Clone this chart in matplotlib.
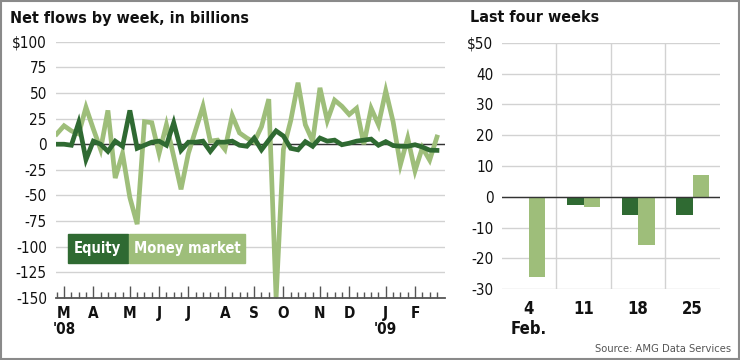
import matplotlib
matplotlib.use("Agg")
import matplotlib.pyplot as plt
from matplotlib import font_manager as fm
from matplotlib.patches import Rectangle
import numpy as np

# pick a narrow sans if one is around
names = {f.name for f in fm.fontManager.ttflist}
paths = [f.fname for f in fm.fontManager.ttflist]
if 'Liberation Sans Narrow' in names:
    plt.rcParams['font.family'] = ['Liberation Sans Narrow', 'DejaVu Sans']
elif any('DejaVuSansCondensed' in p for p in paths):
    plt.rcParams['font.family'] = ['DejaVu Sans']
    plt.rcParams['font.stretch'] = 'condensed'
else:
    plt.rcParams['font.family'] = ['Liberation Sans', 'DejaVu Sans']

# weekly net flows, $ billions, Feb 27 2008 .. Feb 25 2009
equity = [0, 0, -1, 21, -15, 3, 0, -7, 3, -2,
          33, -4, -1, 2, 3, -1, 21, -6, 2, 2,
          3, -7, 2, 2, 3, -1, -2, 6, -5.5, 4,
          13, 8, -4, -5.5, 2.5, -2, 6, 3, 4, -0.5,
          1, 3, 4, 5, -1, 2.5, -1.3, -2, -2, -0.5,
          -2.7, -5.8, -6.0]
money_market = [10, 18, 13, 10, 36, 15, -5, 33, -33, -9,
                -52, -78, 22, 21, -9, 19, -12, -44, -9, 14,
                37, 3, 4, -5, 28, 11, 6, 2, 17, 44,
                -150, -5, 23, 60, 19, 3, 55, 23, 43, 37,
                29, 35, 0, 35, 19, 52, 22, -20, 6, -26,
                -3.3, -15.5, 7]
month_weeks = [1, 5, 10, 14, 18, 23, 27, 31, 36, 40, 45, 49]
month_labels = ["M\n'08", "A", "M", "J", "J", "A", "S", "O", "N", "D", "J\n'09", "F"]
y_ticks = [100, 75, 50, 25, 0, -25, -50, -75, -100, -125, -150]
y_labels = ["$100"] + [str(v) for v in y_ticks[1:]]

last4_days = ["4\nFeb.", "11", "18", "25"]
last4_equity = [-0.5, -2.7, -5.8, -6.0]
last4_money = [-26.0, -3.3, -15.5, 7.0]
bar_ticks = [50, 40, 30, 20, 10, 0, -10, -20, -30]
bar_labels = ["$50"] + [str(v) for v in bar_ticks[1:]]

DARK = '#2f6a32'
LIGHT = '#9ebe7a'
GRID = '#d2d2d2'
AXIS = '#555555'

fig = plt.figure(figsize=(7.4, 3.6), dpi=100)
W, H = 740.0, 360.0

def fbox(x0, y0, x1, y1):
    return [x0 / W, 1 - y1 / H, (x1 - x0) / W, (y1 - y0) / H]

# ---- left: weekly line chart
ax = fig.add_axes(fbox(56, 41.7, 445, 298))
weeks = np.arange(len(equity))
ax.set_xlim(-0.1, 53.1)
ax.set_ylim(-150, 100)
for v in y_ticks:
    ax.axhline(v, color=GRID, lw=1.0, zorder=0)
ax.axhline(0, color='#333333', lw=1.0, zorder=1)
ax.plot(weeks, money_market, color=LIGHT, lw=3.4, solid_joinstyle='miter', zorder=2)
ax.plot(weeks, equity, color=DARK, lw=3.4, solid_joinstyle='miter', zorder=3)
for s in ['top', 'left', 'right']:
    ax.spines[s].set_visible(False)
ax.spines['bottom'].set_color(AXIS)
ax.spines['bottom'].set_linewidth(1.3)
ax.set_yticks(y_ticks)
ax.set_yticklabels(y_labels, fontsize=11, color='#111111')
ax.tick_params(axis='y', length=0, pad=6.5)
ax.set_xticks(month_weeks)
ax.set_xticklabels(month_labels, fontsize=11, fontweight='bold',
                   color='#111111', linespacing=1.05)
ax.set_xticks(weeks, minor=True)
ax.tick_params(axis='x', which='major', direction='in', length=9, width=1, color=AXIS, pad=6)
ax.tick_params(axis='x', which='minor', direction='in', length=4.5, width=1, color=AXIS)

fig.text(10 / W, 1 - 18 / H, "Net flows by week, in billions", fontsize=11.5,
         fontweight='bold', va='center', ha='left', color='#111111')

# legend boxes
for (x0, x1, col, lab) in [(67.7, 127.7, DARK, "Equity"), (129, 245, LIGHT, "Money market")]:
    fig.patches.append(Rectangle((x0 / W, 1 - 262.7 / H), (x1 - x0) / W, 28.7 / H,
                                 transform=fig.transFigure, color=col, zorder=5))
    fig.text((x0 + x1) / 2 / W, 1 - 248.5 / H, lab, color='white', fontsize=10.5,
             fontweight='bold', ha='center', va='center', zorder=6)

# ---- right: last four weeks bars
bx = fig.add_axes(fbox(501.7, 42.7, 720, 289.3))
bx.set_xlim(-0.5, 3.5)
bx.set_ylim(-30, 50)
pos = np.arange(len(last4_days))
for v in bar_ticks:
    bx.axhline(v, color=GRID, lw=1.0, zorder=0)
for v in [0.5, 1.5, 2.5]:
    bx.axvline(v, color=GRID, lw=1.0, zorder=0)
bx.bar(pos - 0.3, last4_equity, width=0.3, align='edge', color=DARK, zorder=2)
bx.bar(pos, last4_money, width=0.3, align='edge', color=LIGHT, zorder=2)
bx.axhline(0, color='#333333', lw=1.0, zorder=3)
for s in bx.spines.values():
    s.set_visible(False)
bx.set_yticks(bar_ticks)
bx.set_yticklabels(bar_labels, fontsize=11, color='#111111')
bx.tick_params(axis='y', length=0, pad=6)
bx.set_xticks(pos)
bx.set_xticklabels(last4_days, fontsize=12, fontweight='bold', color='#111111',
                   linespacing=1.1)
bx.tick_params(axis='x', length=0, pad=8)

fig.text(470 / W, 1 - 18 / H, "Last four weeks", fontsize=11.5,
         fontweight='bold', va='center', ha='left', color='#111111')
fig.text(731 / W, 1 - 349 / H, "Source: AMG Data Services", fontsize=8,
         color='#555555', ha='right', va='center')

# outer frame
fig.patches.append(Rectangle((0.002, 0.003), 0.996, 0.994, transform=fig.transFigure,
                             fill=False, edgecolor='#8a8a8a', lw=1.5))

fig.savefig("out.png", dpi=100)
